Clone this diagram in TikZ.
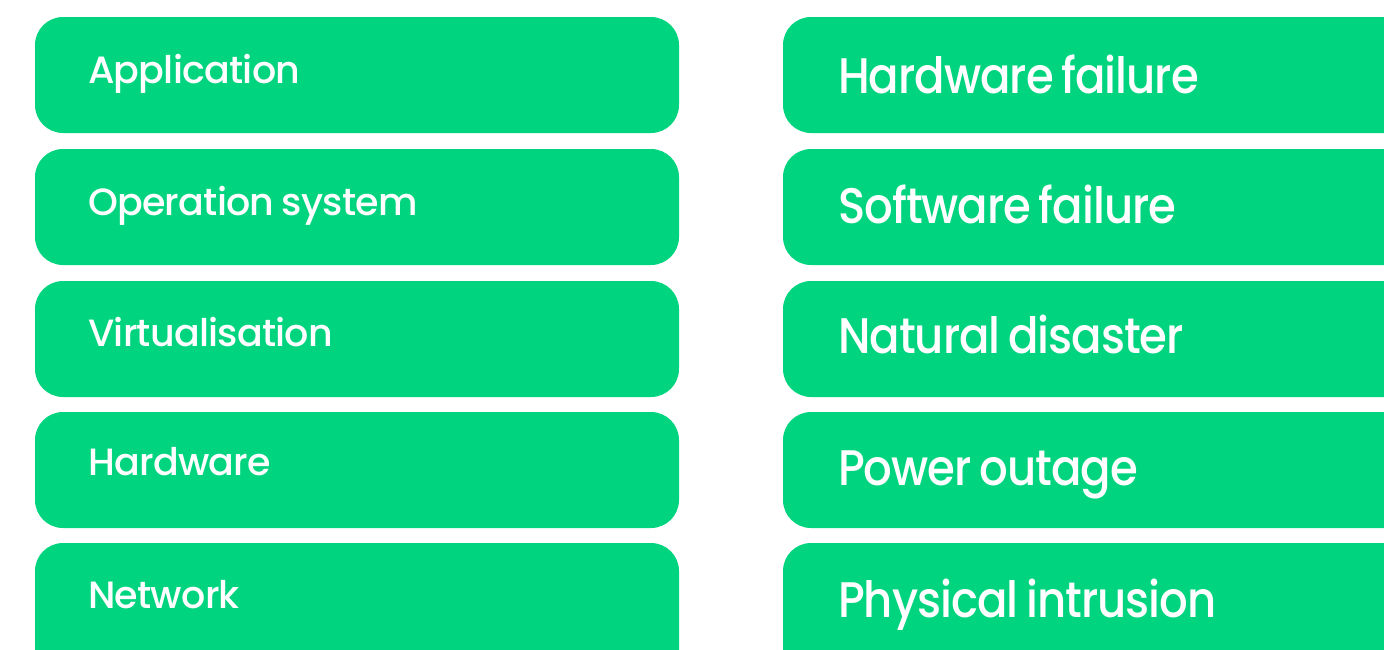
\documentclass[tikz,border=0pt]{standalone}
\usepackage{fontspec}
\setmainfont{Poppins}[UprightFont={* Medium}]
\newfontfamily\leftfont{Poppins}[UprightFont={* Medium},LetterSpace=-2,WordSpace=0.8]
\newfontfamily\rightfont{Poppins}[UprightFont={* Medium},LetterSpace=-2,WordSpace=0.7,FakeStretch=0.9]
\definecolor{boxgreen}{HTML}{00D47F}
\begin{document}
\begin{tikzpicture}[x=1pt,y=-1pt,
  card/.style={fill=boxgreen,draw=none,rounded corners=28pt},
  lefttext/.style={anchor=base west,inner sep=0pt,text=white,font=\leftfont\fontsize{38}{40}\selectfont},
  righttext/.style={anchor=base west,inner sep=0pt,text=white,font=\rightfont\fontsize{50}{52}\selectfont}]
\useasboundingbox (0,0) rectangle (1384,649);
\clip (0,0) rectangle (1384,649);
% left column
\fill[card] (35,17) rectangle (679,133);
\fill[card] (35,149) rectangle (679,265);
\fill[card] (35,281) rectangle (679,397);
\fill[card] (35,412) rectangle (679,528);
\fill[card] (35,543) rectangle (679,680);
\node[lefttext] (l1) at (88,83) {Application};
\node[lefttext] (l2) at (88,215) {Operation system};
\node[lefttext] (l3) at (88,346) {Virtualisation};
\node[lefttext] (l4) at (88,475) {Hardware};
\node[lefttext] (l5) at (88,608) {Network};
% right column
\fill[card] (783,17) rectangle (1430,133);
\fill[card] (783,149) rectangle (1430,265);
\fill[card] (783,281) rectangle (1430,397);
\fill[card] (783,412) rectangle (1430,528);
\fill[card] (783,543) rectangle (1430,680);
\node[righttext] (r1) at (838,93) {Hardware failure};
\node[righttext] (r2) at (838,223) {Software failure};
\node[righttext] (r3) at (838,353) {Natural disaster};
\node[righttext] (r4) at (838,485) {Power outage};
\node[righttext] (r5) at (838,617) {Physical intrusion};
\end{tikzpicture}
\end{document}
